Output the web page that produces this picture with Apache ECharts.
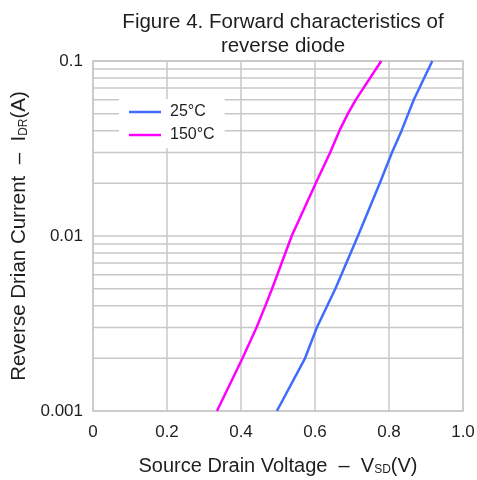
<!DOCTYPE html>
<html>
<head>
<meta charset="utf-8">
<script src="https://cdn.jsdelivr.net/npm/echarts@6/dist/echarts.min.js"></script>
<style>
  html, body { margin: 0; padding: 0; background: #fff; }
  #chart { width: 477px; height: 480px; }
</style>
</head>
<body>
<div id="chart"></div>
<script>
// Forward characteristics of the reverse diode: I_DR vs V_SD
const legendNames = ['25°C', '150°C'];

// 25 °C curve
const vsd25 = [0.497, 0.573, 0.605, 0.655, 0.716, 0.775, 0.808, 0.834, 0.867, 0.917];
const idr25 = [0.001, 0.002, 0.003, 0.005, 0.01, 0.02, 0.03, 0.04, 0.06, 0.1];

// 150 °C curve
const vsd150 = [0.335, 0.404, 0.442, 0.466, 0.484, 0.537, 0.602, 0.641, 0.666, 0.689, 0.710, 0.779];
const idr150 = [0.001, 0.002, 0.003, 0.004, 0.005, 0.01, 0.02, 0.03, 0.04, 0.05, 0.06, 0.1];

// Axis ticks
const xTicks = [0, 0.2, 0.4, 0.6, 0.8, 1.0];
const yDecades = [0.001, 0.01, 0.1];
const yMinorLines = [0.002, 0.003, 0.004, 0.005, 0.006, 0.007, 0.008, 0.009,
                     0.02, 0.03, 0.04, 0.05, 0.06, 0.07, 0.08, 0.09];

const pairs = (xs, ys) => xs.map((x, i) => [x, ys[i]]);

const FONT = '"Liberation Sans", Arial, sans-serif';
const GRID_COLOR = '#c8c8c8';
const TEXT_COLOR = '#1e1e1e';

// Horizontal grid lines inside each decade, drawn as flat lines across the x range
const minorGridSeries = yMinorLines.map(v => ({
  name: 'grid-' + v,
  type: 'line',
  data: [[xTicks[0], v], [xTicks[xTicks.length - 1], v]],
  silent: true,
  showSymbol: false,
  symbol: 'none',
  z: 1,
  lineStyle: { color: GRID_COLOR, width: 1.5 },
  emphasis: { disabled: true },
  tooltip: { show: false }
}));

const chart = echarts.init(document.getElementById('chart'), null, { renderer: 'canvas' });

chart.setOption({
  backgroundColor: '#ffffff',
  animation: false,
  title: {
    text: 'Figure 4. Forward characteristics of\nreverse diode',
    left: 278,
    top: 5,
    textAlign: 'center',
    textStyle: {
      fontFamily: FONT,
      fontSize: 20.5,
      fontWeight: 'normal',
      color: TEXT_COLOR,
      lineHeight: 24
    }
  },
  legend: {
    data: legendNames,
    orient: 'vertical',
    left: 119,
    top: 99,
    padding: [5, 10, 5, 10],
    itemGap: 7,
    itemWidth: 32,
    itemHeight: 16,
    backgroundColor: '#ffffff',
    textStyle: { fontFamily: FONT, fontSize: 16, color: TEXT_COLOR, padding: [0, 0, 0, 4] },
    icon: 'path://M0,7 L32,7 L32,9.5 L0,9.5 Z'
  },
  grid: {
    left: 93,
    right: 14,
    top: 61,
    bottom: 69,
    show: true,
    borderColor: GRID_COLOR,
    borderWidth: 1.5,
    outerBoundsMode: 'none',
    containLabel: false
  },
  xAxis: {
    type: 'value',
    min: xTicks[0],
    max: xTicks[xTicks.length - 1],
    interval: 0.2,
    name: '{n|Source Drain Voltage  –  V}{s|SD}{n|(V)}',
    nameLocation: 'middle',
    nameGap: 45,
    nameTextStyle: {
      rich: {
        n: { fontFamily: FONT, fontSize: 20, color: TEXT_COLOR },
        s: { fontFamily: FONT, fontSize: 12, color: TEXT_COLOR, verticalAlign: 'bottom', padding: [7, 0, 0, 0] }
      }
    },
    axisLine: { show: false },
    axisTick: { show: false },
    axisLabel: {
      margin: 13,
      fontFamily: FONT,
      fontSize: 17,
      color: TEXT_COLOR,
      formatter: v => (v === 0 ? '0' : v.toFixed(1))
    },
    splitLine: { show: true, lineStyle: { color: GRID_COLOR, width: 1.5 } }
  },
  yAxis: {
    type: 'log',
    logBase: 10,
    min: yDecades[0],
    max: yDecades[yDecades.length - 1],
    name: '{n|Reverse Drian Current  –  I}{s|DR}{n|(A)}',
    nameLocation: 'middle',
    nameGap: 52,
    nameRotate: 90,
    nameTextStyle: {
      rich: {
        n: { fontFamily: FONT, fontSize: 20.5, color: TEXT_COLOR },
        s: { fontFamily: FONT, fontSize: 12, color: TEXT_COLOR, verticalAlign: 'bottom', padding: [7, 0, 0, 0] }
      }
    },
    axisLine: { show: false },
    axisTick: { show: false },
    axisLabel: {
      margin: 10,
      fontFamily: FONT,
      fontSize: 17,
      color: TEXT_COLOR,
      formatter: v => {
        const hit = yDecades.find(d => Math.abs(d - v) / d < 1e-6);
        return hit !== undefined ? String(hit) : '';
      }
    },
    splitLine: { show: true, lineStyle: { color: GRID_COLOR, width: 1.5 } }
  },
  series: minorGridSeries.concat([
    {
      name: legendNames[0],
      type: 'line',
      data: pairs(vsd25, idr25),
      smooth: false,
      showSymbol: false,
      z: 3,
      lineStyle: { color: '#3f6cff', width: 2.5, join: 'round' },
      itemStyle: { color: '#3f6cff' }
    },
    {
      name: legendNames[1],
      type: 'line',
      data: pairs(vsd150, idr150),
      smooth: false,
      showSymbol: false,
      z: 3,
      lineStyle: { color: '#ff00ff', width: 2.5, join: 'round' },
      itemStyle: { color: '#ff00ff' }
    }
  ])
});
</script>
</body>
</html>
